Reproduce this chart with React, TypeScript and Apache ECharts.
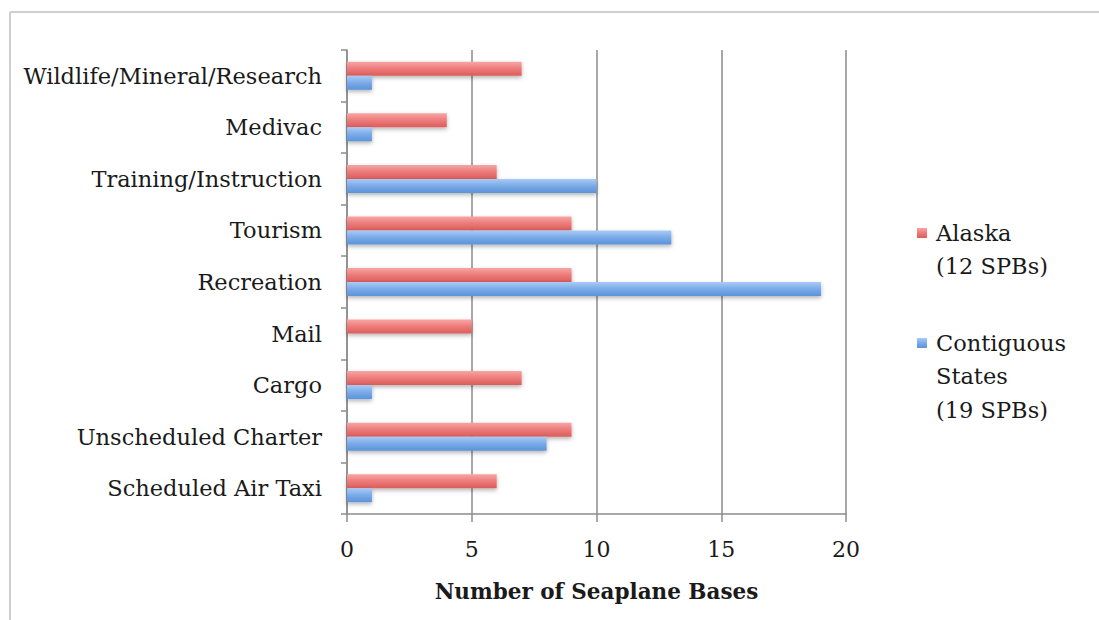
import React, { useEffect, useRef } from "react";
import * as echarts from "echarts";

const categories = [
  "Scheduled Air Taxi",
  "Unscheduled Charter",
  "Cargo",
  "Mail",
  "Recreation",
  "Tourism",
  "Training/Instruction",
  "Medivac",
  "Wildlife/Mineral/Research",
];
const alaskaValues = [6, 9, 7, 5, 9, 9, 6, 4, 7];
const contiguousValues = [1, 8, 1, 0, 19, 13, 10, 1, 1];
const xTicks = [0, 5, 10, 15, 20];
const alaskaLabel = ["Alaska", "(12 SPBs)"];
const contiguousLabel = ["Contiguous", "States", "(19 SPBs)"];

const FONT = "DejaVu Serif";

export default function App() {
  const ref = useRef<HTMLDivElement>(null);
  useEffect(() => {
    if (!ref.current) return;
    const chart = echarts.init(ref.current, undefined, { renderer: "svg" });
    const redGrad = new echarts.graphic.LinearGradient(0, 0, 0, 1, [
      { offset: 0, color: "#f7a5a4" },
      { offset: 0.5, color: "#ec7b7a" },
      { offset: 1, color: "#dc5c5a" },
    ]);
    const blueGrad = new echarts.graphic.LinearGradient(0, 0, 0, 1, [
      { offset: 0, color: "#aacbf6" },
      { offset: 0.5, color: "#7aaae8" },
      { offset: 1, color: "#5b93da" },
    ]);
    const shadow = {
      shadowBlur: 4,
      shadowOffsetY: 2,
      shadowColor: "rgba(0,0,0,0.3)",
    };
    chart.setOption({
      animation: false,
      backgroundColor: "#ffffff",
      grid: { left: 347, right: 253, top: 50, bottom: 106, containLabel: false },
      xAxis: {
        type: "value",
        min: xTicks[0],
        max: xTicks[xTicks.length - 1],
        interval: 5,
        name: "Number of Seaplane Bases",
        nameLocation: "middle",
        nameGap: 66,
        nameTextStyle: { fontFamily: FONT, fontSize: 21.5, fontWeight: "bold", color: "#1a1a1a" },
        axisLine: { show: true, lineStyle: { color: "#8c8c8c", width: 1.5 } },
        axisTick: { show: true, length: 8, lineStyle: { color: "#8c8c8c", width: 1.5 } },
        axisLabel: { fontFamily: FONT, fontSize: 22, color: "#1a1a1a", margin: 24 },
        splitLine: { show: true, lineStyle: { color: "#8c8c8c", width: 1.5 } },
      },
      yAxis: {
        type: "category",
        data: categories,
        axisLine: { show: true, lineStyle: { color: "#8c8c8c", width: 1.5 } },
        axisTick: { show: true, length: 6, lineStyle: { color: "#8c8c8c", width: 1.5 } },
        axisLabel: { fontFamily: FONT, fontSize: 22.5, color: "#1a1a1a", margin: 25 },
        splitLine: { show: false },
      },
      series: [
        {
          name: "Alaska (12 SPBs)",
          type: "bar",
          data: alaskaValues,
          barWidth: 14,
          barGap: "0%",
          itemStyle: { color: redGrad, ...shadow },
        },
        {
          name: "Contiguous States (19 SPBs)",
          type: "bar",
          data: contiguousValues,
          barWidth: 14,
          barGap: "0%",
          itemStyle: { color: blueGrad, ...shadow },
        },
      ],
      graphic: [
        { type: "line", shape: { x1: 10, y1: 12, x2: 1099, y2: 12 }, style: { stroke: "#cfcfcf", lineWidth: 2 } },
        { type: "line", shape: { x1: 10, y1: 12, x2: 10, y2: 620 }, style: { stroke: "#cfcfcf", lineWidth: 2 } },
        { type: "rect", shape: { x: 917, y: 228, width: 10, height: 10 }, style: { fill: redGrad } },
        {
          type: "text",
          x: 936,
          y: 216,
          style: { text: alaskaLabel.join("\n"), fontFamily: FONT, fontSize: 22.5, lineHeight: 33, fill: "#1a1a1a" },
        },
        { type: "rect", shape: { x: 917, y: 338, width: 10, height: 10 }, style: { fill: blueGrad } },
        {
          type: "text",
          x: 936,
          y: 326,
          style: { text: contiguousLabel.join("\n"), fontFamily: FONT, fontSize: 22.5, lineHeight: 33.5, fill: "#1a1a1a" },
        },
      ],
    });
    return () => chart.dispose();
  }, []);
  return (
    <div
      ref={ref}
      style={{ position: "fixed", left: 0, top: 0, width: 1099, height: 620 }}
    />
  );
}
